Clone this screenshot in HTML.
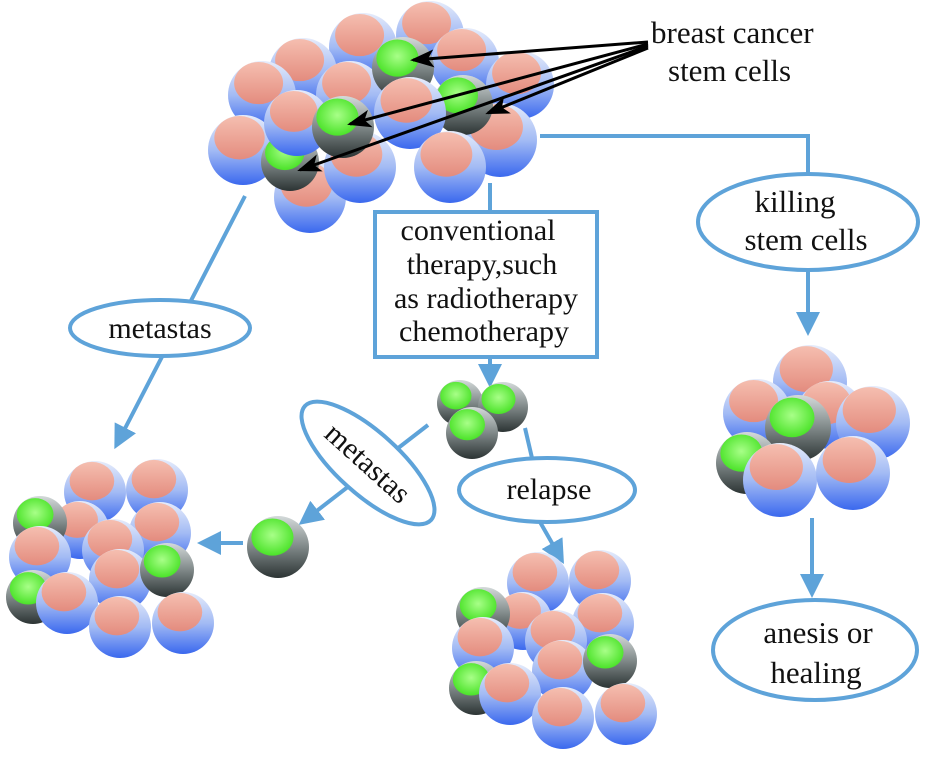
<!DOCTYPE html>
<html><head><meta charset="utf-8"><style>
html,body{margin:0;padding:0;background:#fff;width:945px;height:763px;overflow:hidden}
svg{display:block}
text{font-family:"Liberation Serif","Times New Roman",serif;fill:#111}
</style></head><body>
<svg width="945" height="763" viewBox="0 0 945 763" xmlns="http://www.w3.org/2000/svg" font-family="Liberation Serif, serif">
<defs>
<linearGradient id="gb" x1="0" y1="0" x2="0" y2="1"><stop offset="0" stop-color="#e6ecfb"/><stop offset="0.5" stop-color="#a3bbf4"/><stop offset="1" stop-color="#3a68ee"/></linearGradient>
<linearGradient id="gp" x1="0" y1="0" x2="0" y2="1"><stop offset="0" stop-color="#f6bcac"/><stop offset="1" stop-color="#e88a78"/></linearGradient>
<linearGradient id="gs" x1="0" y1="0" x2="0" y2="1"><stop offset="0" stop-color="#d4dada"/><stop offset="0.5" stop-color="#7f8888"/><stop offset="1" stop-color="#2c3434"/></linearGradient>
<radialGradient id="gg" cx="0.5" cy="0.45" r="0.6"><stop offset="0" stop-color="#a8ff88"/><stop offset="1" stop-color="#42e020"/></radialGradient>
<g id="n"><circle r="1" fill="url(#gb)"/><ellipse cx="-0.1" cy="-0.35" rx="0.72" ry="0.62" fill="url(#gp)" opacity="0.95"/></g>
<g id="s"><circle r="1" fill="url(#gs)"/><ellipse cx="-0.18" cy="-0.32" rx="0.68" ry="0.6" fill="url(#gg)"/></g>
<marker id="ab" markerWidth="6" markerHeight="6" refX="4" refY="3" orient="auto" markerUnits="strokeWidth"><path d="M0,0 L6,3 L0,6 z" fill="#5ea3d9"/></marker>
<marker id="ak" markerWidth="8" markerHeight="6" refX="7" refY="3" orient="auto" markerUnits="strokeWidth"><path d="M0,0 L8,3 L0,6 L2,3 z" fill="#000"/></marker>
<g id="cl">
<use href="#n" transform="translate(95,492) scale(31)"/>
<use href="#n" transform="translate(157,490) scale(31)"/>
<use href="#n" transform="translate(80,530) scale(29)"/>
<use href="#n" transform="translate(160,533) scale(31)"/>
<use href="#s" transform="translate(40,523) scale(27)"/>
<use href="#n" transform="translate(40,557) scale(31)"/>
<use href="#n" transform="translate(113,550) scale(31)"/>
<use href="#s" transform="translate(33,597) scale(27)"/>
<use href="#n" transform="translate(120,580) scale(31)"/>
<use href="#s" transform="translate(167,570) scale(27)"/>
<use href="#n" transform="translate(67,603) scale(31)"/>
<use href="#n" transform="translate(120,627) scale(31)"/>
<use href="#n" transform="translate(183,623) scale(31)"/>
</g>
</defs>

<!-- top cluster -->
<use href="#n" transform="translate(363,47) scale(34)"/>
<use href="#n" transform="translate(430,35) scale(34)"/>
<use href="#n" transform="translate(465,62) scale(34)"/>
<use href="#n" transform="translate(303,72) scale(34)"/>
<use href="#n" transform="translate(520,85) scale(34)"/>
<use href="#n" transform="translate(262,95) scale(34)"/>
<use href="#n" transform="translate(350,95) scale(34)"/>
<use href="#s" transform="translate(403,68) scale(31)"/>
<use href="#n" transform="translate(243,150) scale(35)"/>
<use href="#n" transform="translate(310,197) scale(36)"/>
<use href="#n" transform="translate(500,140) scale(37)"/>
<use href="#s" transform="translate(463,105) scale(30)"/>
<use href="#n" transform="translate(410,113) scale(36)"/>
<use href="#n" transform="translate(450,167) scale(36)"/>
<use href="#n" transform="translate(360,167) scale(36)"/>
<use href="#s" transform="translate(290,162) scale(29)"/>
<use href="#n" transform="translate(297,123) scale(33)"/>
<use href="#s" transform="translate(343,127) scale(31)"/>

<!-- black arrows -->
<g stroke="#000" stroke-width="3" fill="none">
<line x1="648" y1="42" x2="413" y2="60" marker-end="url(#ak)"/>
<line x1="648" y1="44" x2="350" y2="124" marker-end="url(#ak)"/>
<line x1="648" y1="46" x2="300" y2="170" marker-end="url(#ak)"/>
<line x1="648" y1="48" x2="488" y2="113" marker-end="url(#ak)"/>
</g>
<text x="651" y="43" font-size="31">breast cancer</text>
<text x="668" y="81" font-size="31">stem cells</text>

<!-- blue connectors -->
<g stroke="#5ea3d9" stroke-width="4" fill="none">
<line x1="245" y1="196" x2="118" y2="442" marker-end="url(#ab)"/>
<line x1="490" y1="183" x2="490" y2="212"/>
<line x1="490" y1="357" x2="490" y2="380" marker-end="url(#ab)"/>
<polyline points="540,136 808,136 808,174"/>
<line x1="808" y1="270" x2="808" y2="328" marker-end="url(#ab)"/>
<line x1="812" y1="518" x2="812" y2="590" marker-end="url(#ab)"/>
<line x1="428" y1="425" x2="305" y2="520" marker-end="url(#ab)"/>
<line x1="243" y1="543" x2="205" y2="543" marker-end="url(#ab)"/>
<line x1="525" y1="428" x2="532" y2="458"/>
<line x1="540" y1="522" x2="560" y2="557" marker-end="url(#ab)"/>
</g>
<g stroke="#5ea3d9" stroke-width="4" fill="#fff">
<ellipse cx="160" cy="328" rx="90" ry="28"/>
<rect x="375" y="212" width="222" height="145"/>
<ellipse cx="808" cy="222" rx="110" ry="48"/>
<ellipse cx="368" cy="463" rx="85" ry="31" transform="rotate(42 368 463)"/>
<ellipse cx="547" cy="490" rx="88" ry="32"/>
<ellipse cx="815" cy="650" rx="102" ry="50"/>
</g>
<text x="160" y="338" font-size="30" text-anchor="middle">metastas</text>
<text x="478" y="240" font-size="30" text-anchor="middle">conventional</text>
<text x="482" y="274" font-size="30" text-anchor="middle">therapy,such</text>
<text x="486" y="308" font-size="30" text-anchor="middle">as radiotherapy</text>
<text x="484" y="341" font-size="30" text-anchor="middle">chemotherapy</text>
<text x="795" y="212" font-size="31" text-anchor="middle">killing</text>
<text x="806" y="250" font-size="31" text-anchor="middle">stem cells</text>
<text x="368" y="473" font-size="30" text-anchor="middle" transform="rotate(42 368 463)">metastas</text>
<text x="549" y="499" font-size="30" text-anchor="middle">relapse</text>
<text x="818" y="643" font-size="31" text-anchor="middle">anesis or</text>
<text x="816" y="683" font-size="31" text-anchor="middle">healing</text>

<!-- small stem cluster -->
<use href="#s" transform="translate(460,403) scale(23)"/>
<use href="#s" transform="translate(503,407) scale(25)"/>
<use href="#s" transform="translate(472,433) scale(26)"/>
<use href="#s" transform="translate(278,547) scale(31)"/>

<!-- bottom clusters -->
<use href="#cl"/>
<use href="#cl" transform="translate(443,91)"/>

<!-- right cluster -->
<use href="#n" transform="translate(810,382) scale(37)"/>
<use href="#n" transform="translate(757,413) scale(34)"/>
<use href="#n" transform="translate(830,415) scale(34)"/>
<use href="#n" transform="translate(873,423) scale(37)"/>
<use href="#s" transform="translate(798,428) scale(33)"/>
<use href="#s" transform="translate(747,463) scale(31)"/>
<use href="#n" transform="translate(780,480) scale(37)"/>
<use href="#n" transform="translate(853,473) scale(37)"/>
</svg>
</body></html>
